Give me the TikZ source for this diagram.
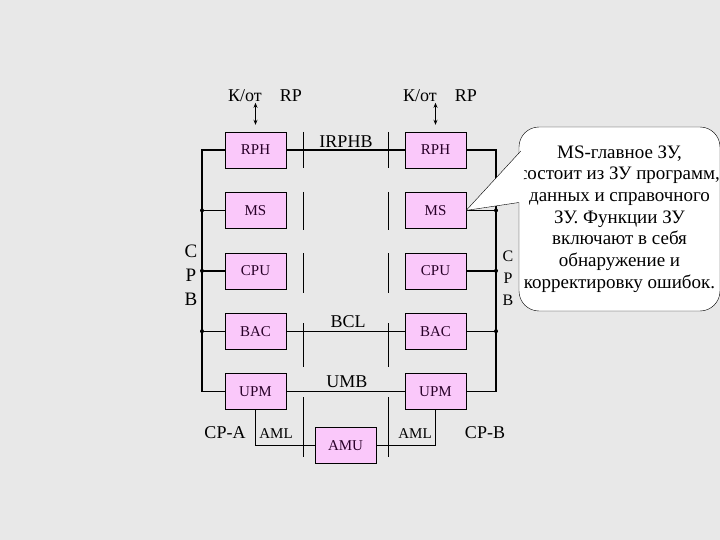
\documentclass[tikz,border=0pt]{standalone}
\usepackage{fontspec}
\setmainfont{Liberation Serif}
\usetikzlibrary{positioning,arrows.meta,calc}

\definecolor{boxpink}{RGB}{250,200,250}
\definecolor{boxtext}{RGB}{40,0,40}
\definecolor{slidebg}{RGB}{232,232,232}

\begin{document}
\begin{tikzpicture}[
    x=1pt, y=-1pt,
    >={Stealth[length=5pt,width=4pt]},
    node distance = 24pt,
    block/.style = {draw, fill=boxpink, text=boxtext, minimum width=61pt,
                    minimum height=36pt, inner sep=0pt,
                    font=\fontsize{15}{15}\selectfont},
    lbl/.style   = {inner sep=0pt, anchor=base, font=\fontsize{18}{18}\selectfont},
    smlbl/.style = {inner sep=0pt, anchor=base, font=\fontsize{15}{15}\selectfont},
    bus/.style   = {line width=1.4pt},
    sep/.style   = {line width=0.7pt},
    dot/.style   = {circle, fill, inner sep=0pt, minimum size=4pt}
]

\useasboundingbox (0,0) rectangle (720,540);
\fill[slidebg] (0,0) rectangle (720,540);

% =========================================================
% CP-A
% =========================================================
\node[block] at (255.5,150) (rphA) {RPH};
\node[block, below=of rphA] (msA)  {MS};
\node[block, below=of msA]  (cpuA) {CPU};
\node[block, below=of cpuA] (bacA) {BAC};
\node[block, below=of bacA] (upmA) {UPM};

% =========================================================
% CP-B
% =========================================================
\node[block] at (435.5,150) (rphB) {RPH};
\node[block, below=of rphB] (msB)  {MS};
\node[block, below=of msB]  (cpuB) {CPU};
\node[block, below=of cpuB] (bacB) {BAC};
\node[block, below=of bacB] (upmB) {UPM};

% =========================================================
% AMU
% =========================================================
\node[block] at ($(upmA)!0.5!(upmB)+(0,54)$) (amu) {AMU};

% =========================================================
% LABELS
% =========================================================
\node[lbl] at (265,102) (kotA) {К/от\hspace{18pt}RP};
\node[lbl] at (440,102) (kotB) {К/от\hspace{18pt}RP};
\node[lbl] at (346,148) (irphb) {IRPHB};
\node[lbl] at (348,327) (bcl) {BCL};
\node[lbl] at (347,387) (umb) {UMB};
\node[lbl] at (225,438) (cpa) {CP-A};
\node[lbl] at (485,438) (cpb) {CP-B};
\node[smlbl] at (276,438) (amlA) {AML};
\node[smlbl] at (415,438) (amlB) {AML};
\node[inner sep=0pt, align=center, font=\fontsize{19}{24}\selectfont]
    at (191,275.5) (cpbA) {C\\P\\B};
\node[inner sep=0pt, align=center, font=\fontsize{16}{22}\selectfont]
    at (508,278.5) (cpbB) {C\\P\\B};

% =========================================================
% SEPARATORS
% =========================================================
\foreach \ya/\yb in {132/168, 192/230, 253/293, 323/367, 397/457} {
  \draw[sep] (303,\ya) -- (303,\yb);
  \draw[sep] (388,\ya) -- (388,\yb);
}

% =========================================================
% BUSES
% =========================================================
\coordinate (busA) at (202,0);
\coordinate (busB) at (496,0);

\draw[bus] (rphA.west) -- (rphA.west -| busA) -- (upmA.west -| busA) -- (upmA.west);
\foreach \n in {msA, cpuA, bacA}
  \draw[bus] (\n.west) -- (\n.west -| busA) node[dot] {};

\draw[bus] (rphB.east) -- (rphB.east -| busB) -- (upmB.east -| busB) -- (upmB.east);
\foreach \n in {msB, cpuB, bacB}
  \draw[bus] (\n.east) -- (\n.east -| busB) node[dot] {};

\draw[bus] (rphA.east) -- (rphB.west);
\draw[bus] (bacA.east) -- (bacB.west);
\draw[bus] (upmA.east) -- (upmB.west);
\draw[bus] (upmA.south) |- (amu.west);
\draw[bus] (amu.east) -| (upmB.south);

\draw[<->, line width=1pt] ($(rphA.north)+(0,-29)$) -- ($(rphA.north)+(0,-7)$);
\draw[<->, line width=1pt] ($(rphB.north)+(0,-29)$) -- ($(rphB.north)+(0,-7)$);

% =========================================================
% NOTE
% =========================================================
\node[draw, fill=white, rounded corners=20pt, minimum width=195pt,
      minimum height=184pt, inner sep=0pt, align=center,
      font=\fontsize{19}{21.7}\selectfont] at (619.5,219) (note)
  {MS-главное ЗУ,\\состоит из ЗУ программ,\\данных и справочного\\
   ЗУ. Функции ЗУ\\включают в себя\\обнаружение и\\корректировку ошибок.};
\coordinate (tipU) at ($(note.west)+(2,-68)$);
\coordinate (tipL) at ($(note.west)+(0,-16.5)$);
\fill[white] (msB.east) -- (tipU) -- ($(tipU)+(4,0)$) -- ($(tipL)+(4,0)$) -- (tipL) -- cycle;
\draw (msB.east) -- (tipU);
\draw (msB.east) -- (tipL);

\end{tikzpicture}
\end{document}
